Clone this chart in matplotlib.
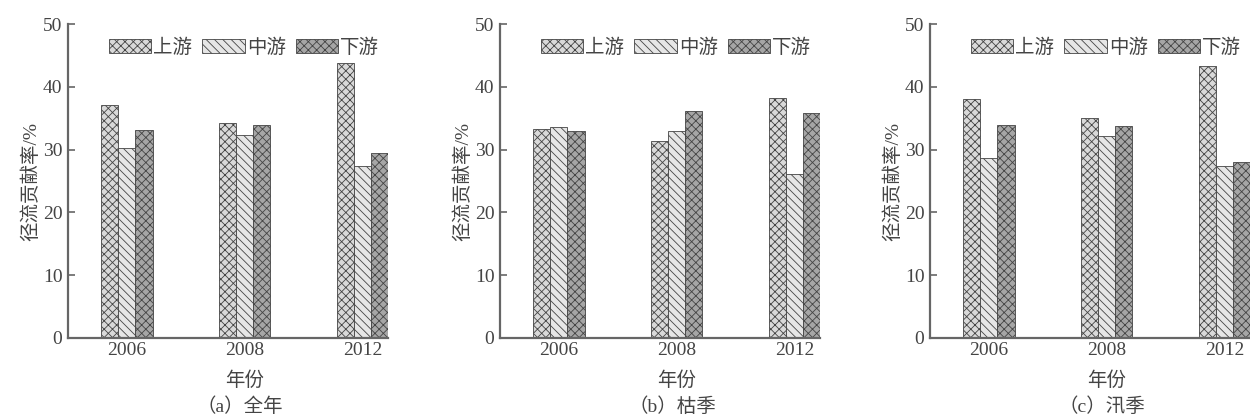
import matplotlib.pyplot as plt
import matplotlib.transforms as mtransforms
import numpy as np

plt.rcParams['font.family'] = ['Liberation Serif', 'Noto Sans CJK SC']
plt.rcParams['hatch.linewidth'] = 0.6
plt.rcParams['hatch.color'] = '#555555'

years = ['2006', '2008', '2012']
reaches = ['上游', '中游', '下游']

# runoff contribution (%) per reach, rows: 上游/中游/下游
annual = [[37.1, 34.3, 43.8],
          [30.3, 32.4, 27.4],
          [33.2, 33.9, 29.5]]
dry = [[33.3, 31.3, 38.2],
       [33.6, 33.0, 26.2],
       [32.9, 36.1, 35.8]]
flood = [[38.1, 35.1, 43.4],
         [28.7, 32.1, 27.4],
         [34.0, 33.7, 28.0]]

panels = [annual, dry, flood]
captions = ['（a）全年', '（b）枯季', '（c）汛季']
lefts = [0.0544, 0.40, 0.744]

colors = ['#d9d9d9', '#e6e6e6', '#a6a6a6']
hatches = ['xxxx', '\\\\\\\\', 'xxxx']
txt = '#444444'

fig = plt.figure(figsize=(12.5, 4.18), dpi=100)

x = np.arange(len(years))
w = 0.145

for data, cap, left in zip(panels, captions, lefts):
    ax = fig.add_axes([left, 0.1914, 0.256, 0.751])
    for i, name in enumerate(reaches):
        ax.bar(x + (i - 1) * w, data[i], w, color=colors[i], hatch=hatches[i],
               edgecolor='#444444', linewidth=0.6, label=name)
    ax.set_xlim(-0.5, 2.215)
    ax.set_ylim(0, 50)
    ax.set_yticks([0, 10, 20, 30, 40, 50])
    ax.set_xticks(x)
    ax.set_xticklabels(years)
    ax.spines['top'].set_visible(False)
    ax.spines['right'].set_visible(False)
    for s in ['left', 'bottom']:
        ax.spines[s].set_color('#666666')
        ax.spines[s].set_linewidth(1.6)
    ax.tick_params(axis='y', direction='in', length=5, width=1.2, color='#666666',
                   labelsize=14, labelcolor=txt, pad=4)
    ax.tick_params(axis='x', length=0, labelsize=14, labelcolor=txt, pad=3)
    ax.set_ylabel('径流贡献率/%', fontsize=14, color=txt, labelpad=2)

    trans = mtransforms.blended_transform_factory(ax.transData, ax.transAxes)
    ax.text(1, -0.135, '年份', transform=trans, ha='center', va='center',
            fontsize=14, color=txt)
    ax.text(0.96, -0.22, cap, transform=trans, ha='center', va='center',
            fontsize=14, color=txt)

    ax.legend(loc='center', bbox_to_anchor=(0.55, 0.925), ncol=3,
              frameon=False, fontsize=14, handlelength=2.2, handleheight=0.7,
              handletextpad=0.1, columnspacing=0.5, labelcolor=txt)

fig.savefig('out.png', dpi=100)
